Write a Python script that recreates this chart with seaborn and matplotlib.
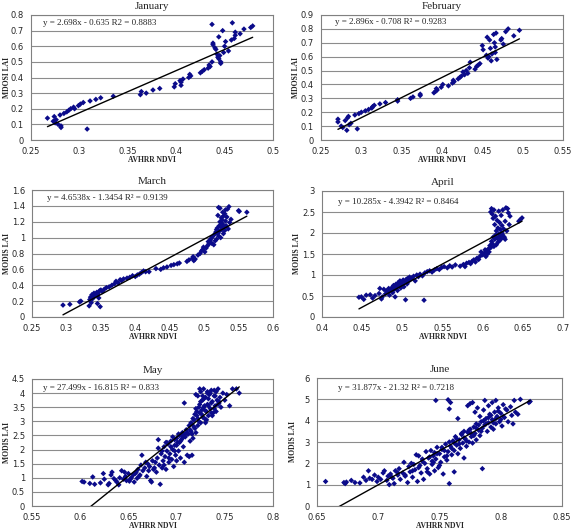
import numpy as np
import pandas as pd
import matplotlib
matplotlib.use("Agg")
import matplotlib.pyplot as plt
import matplotlib.ticker as ticker
import seaborn as sns

sns.set_style("white")
plt.rcParams['font.family'] = ['Liberation Serif', 'DejaVu Serif']

# ---- data ----
jan_x = [0.267, 0.273, 0.274, 0.275, 0.276, 0.278, 0.280, 0.281, 0.281, 0.284, 0.287, 0.289, 0.291, 0.294,
         0.295, 0.299, 0.301, 0.304, 0.308, 0.311, 0.317, 0.322, 0.335, 0.363, 0.364, 0.369, 0.376, 0.383,
         0.398, 0.399, 0.404, 0.405, 0.405, 0.407, 0.413, 0.414, 0.415, 0.425, 0.427, 0.429, 0.433, 0.434,
         0.435, 0.437, 0.437, 0.438, 0.438, 0.440, 0.441, 0.442, 0.443, 0.444, 0.444, 0.445, 0.446, 0.446,
         0.448, 0.449, 0.450, 0.451, 0.454, 0.457, 0.458, 0.460, 0.461, 0.461, 0.466, 0.470, 0.477, 0.479]
jan_y = [0.14, 0.12, 0.15, 0.11, 0.13, 0.10, 0.16, 0.09, 0.08, 0.17, 0.18, 0.19, 0.20, 0.21,
         0.20, 0.22, 0.23, 0.24, 0.07, 0.25, 0.26, 0.27, 0.28, 0.29, 0.31, 0.30, 0.32, 0.33,
         0.34, 0.36, 0.38, 0.35, 0.37, 0.39, 0.40, 0.42, 0.41, 0.43, 0.44, 0.45, 0.46, 0.48,
         0.47, 0.50, 0.74, 0.62, 0.61, 0.59, 0.58, 0.55, 0.53, 0.52, 0.66, 0.54, 0.50, 0.49,
         0.70, 0.56, 0.60, 0.63, 0.57, 0.64, 0.75, 0.65, 0.67, 0.69, 0.68, 0.71, 0.72, 0.73]

feb_x = [0.271, 0.271, 0.275, 0.277, 0.280, 0.282, 0.283, 0.284, 0.285, 0.287, 0.292, 0.295, 0.297, 0.300,
         0.305, 0.309, 0.313, 0.314, 0.316, 0.323, 0.330, 0.345, 0.345, 0.361, 0.364, 0.373, 0.373, 0.390,
         0.392, 0.393, 0.394, 0.399, 0.401, 0.408, 0.413, 0.414, 0.415, 0.420, 0.422, 0.424, 0.426, 0.428,
         0.430, 0.432, 0.434, 0.435, 0.441, 0.443, 0.445, 0.447, 0.450, 0.451, 0.455, 0.456, 0.457, 0.458,
         0.459, 0.460, 0.461, 0.462, 0.464, 0.465, 0.466, 0.466, 0.467, 0.468, 0.473, 0.474, 0.476, 0.479,
         0.482, 0.489, 0.496]
feb_y = [0.15, 0.13, 0.10, 0.09, 0.14, 0.07, 0.16, 0.17, 0.11, 0.12, 0.18, 0.08, 0.19, 0.20,
         0.21, 0.22, 0.23, 0.24, 0.25, 0.26, 0.27, 0.28, 0.29, 0.30, 0.31, 0.32, 0.33, 0.34,
         0.35, 0.37, 0.36, 0.38, 0.40, 0.39, 0.41, 0.43, 0.42, 0.44, 0.45, 0.46, 0.49, 0.47,
         0.50, 0.48, 0.52, 0.56, 0.51, 0.53, 0.54, 0.55, 0.68, 0.65, 0.61, 0.74, 0.59, 0.60,
         0.72, 0.66, 0.57, 0.62, 0.76, 0.70, 0.67, 0.63, 0.77, 0.58, 0.72, 0.73, 0.69, 0.78,
         0.80, 0.75, 0.79]

mar_x = [0.295, 0.305, 0.319, 0.321, 0.333, 0.334, 0.335, 0.336, 0.337, 0.338, 0.340, 0.341, 0.343, 0.344,
         0.345, 0.346, 0.347, 0.348, 0.349, 0.350, 0.352, 0.355, 0.358, 0.362, 0.366, 0.370, 0.372, 0.375,
         0.378, 0.380, 0.383, 0.388, 0.392, 0.396, 0.400, 0.403, 0.406, 0.409, 0.412, 0.415, 0.420, 0.430,
         0.437, 0.441, 0.446, 0.452, 0.456, 0.461, 0.464, 0.475, 0.478, 0.483, 0.484, 0.485, 0.487, 0.491,
         0.494, 0.496, 0.498, 0.499, 0.501, 0.503, 0.505, 0.506, 0.507, 0.509, 0.510, 0.511, 0.512, 0.514,
         0.515, 0.516, 0.517, 0.518, 0.518, 0.519, 0.520, 0.520, 0.521, 0.521, 0.522, 0.522, 0.523, 0.523,
         0.524, 0.524, 0.525, 0.525, 0.526, 0.526, 0.527, 0.527, 0.528, 0.528, 0.529, 0.530, 0.530, 0.531,
         0.531, 0.532, 0.533, 0.534, 0.535, 0.536, 0.537, 0.539, 0.550, 0.551, 0.562]
mar_y = [0.15, 0.16, 0.19, 0.20, 0.14, 0.22, 0.25, 0.18, 0.28, 0.23, 0.30, 0.26, 0.27, 0.31,
         0.17, 0.29, 0.24, 0.33, 0.13, 0.34, 0.32, 0.35, 0.37, 0.38, 0.40, 0.42, 0.45, 0.43,
         0.47, 0.46, 0.48, 0.49, 0.50, 0.52, 0.51, 0.53, 0.54, 0.56, 0.58, 0.57, 0.57, 0.61,
         0.60, 0.62, 0.63, 0.65, 0.66, 0.67, 0.68, 0.70, 0.72, 0.74, 0.76, 0.71, 0.73, 0.78,
         0.80, 0.83, 0.85, 0.88, 0.82, 0.87, 0.90, 0.95, 0.92, 0.97, 0.99, 0.93, 1.01, 0.91,
         1.04, 0.96, 1.07, 1.10, 0.98, 1.12, 1.28, 1.05, 1.38, 1.02, 1.15, 1.08, 1.37, 1.20,
         1.14, 1.00, 1.25, 1.18, 1.10, 1.22, 1.17, 1.32, 1.05, 1.27, 1.13, 1.30, 1.09, 1.35,
         1.21, 1.15, 1.26, 1.36, 1.11, 1.39, 1.19, 1.23, 1.34, 1.33, 1.32]

apr_x = [0.446, 0.449, 0.452, 0.455, 0.460, 0.463, 0.466, 0.471, 0.472, 0.474, 0.475, 0.477, 0.479, 0.480,
         0.482, 0.483, 0.484, 0.486, 0.487, 0.488, 0.489, 0.490, 0.491, 0.492, 0.493, 0.494, 0.495, 0.496,
         0.497, 0.498, 0.499, 0.500, 0.501, 0.502, 0.503, 0.504, 0.505, 0.506, 0.507, 0.508, 0.509, 0.510,
         0.512, 0.514, 0.516, 0.518, 0.520, 0.522, 0.525, 0.527, 0.528, 0.531, 0.534, 0.537, 0.540, 0.543,
         0.546, 0.549, 0.552, 0.556, 0.559, 0.562, 0.566, 0.572, 0.576, 0.578, 0.580, 0.583, 0.585, 0.587,
         0.589, 0.591, 0.593, 0.595, 0.597, 0.598, 0.600, 0.602, 0.603, 0.604, 0.605, 0.606, 0.607, 0.608,
         0.609, 0.610, 0.610, 0.611, 0.611, 0.612, 0.612, 0.613, 0.613, 0.614, 0.614, 0.615, 0.615, 0.616,
         0.616, 0.617, 0.617, 0.618, 0.618, 0.619, 0.619, 0.620, 0.620, 0.621, 0.621, 0.622, 0.622, 0.623,
         0.623, 0.624, 0.624, 0.625, 0.625, 0.626, 0.627, 0.628, 0.628, 0.629, 0.630, 0.631, 0.632, 0.633,
         0.634, 0.645, 0.647, 0.649]
apr_y = [0.47, 0.48, 0.42, 0.52, 0.53, 0.45, 0.51, 0.56, 0.68, 0.43, 0.48, 0.66, 0.55, 0.62,
         0.60, 0.68, 0.52, 0.64, 0.70, 0.58, 0.75, 0.66, 0.48, 0.78, 0.71, 0.63, 0.82, 0.74,
         0.86, 0.69, 0.80, 0.76, 0.88, 0.72, 0.84, 0.41, 0.90, 0.79, 0.92, 0.86, 0.95, 0.89,
         0.93, 0.97, 0.86, 1.00, 0.96, 1.02, 0.98, 0.40, 1.05, 1.08, 1.10, 1.07, 1.12, 1.15,
         1.13, 1.18, 1.20, 1.17, 1.22, 1.19, 1.24, 1.21, 1.25, 1.20, 1.28, 1.30, 1.27, 1.33,
         1.36, 1.31, 1.40, 1.37, 1.45, 1.55, 1.48, 1.52, 1.60, 1.44, 1.57, 1.50, 1.62, 1.55,
         1.70, 2.50, 1.65, 2.58, 1.80, 2.45, 1.75, 2.35, 1.90, 2.55, 1.68, 2.20, 1.85, 2.40,
         1.95, 1.72, 2.05, 2.30, 1.88, 1.78, 2.12, 2.52, 1.98, 1.82, 2.25, 2.08, 1.92, 2.42,
         1.86, 2.18, 2.00, 2.55, 1.95, 2.10, 1.90, 2.28, 1.85, 2.60, 2.05, 2.58, 2.48, 2.20,
         2.40, 2.28, 2.32, 2.36]

may_x = [0.602, 0.604, 0.610, 0.613, 0.615, 0.621, 0.624, 0.625, 0.629, 0.630, 0.632, 0.633, 0.635, 0.637,
         0.640, 0.641, 0.643, 0.645, 0.647, 0.648, 0.650, 0.651, 0.653, 0.655, 0.656, 0.658, 0.659, 0.660,
         0.662, 0.663, 0.664, 0.665, 0.667, 0.669, 0.670, 0.672, 0.673, 0.674, 0.675, 0.676, 0.678, 0.679,
         0.680, 0.681, 0.681, 0.682, 0.683, 0.684, 0.685, 0.686, 0.687, 0.688, 0.689, 0.690, 0.691, 0.692,
         0.693, 0.694, 0.695, 0.696, 0.697, 0.698, 0.699, 0.700, 0.700, 0.701, 0.702, 0.703, 0.704, 0.705,
         0.706, 0.707, 0.708, 0.708, 0.709, 0.710, 0.711, 0.712, 0.713, 0.714, 0.715, 0.716, 0.717, 0.718,
         0.719, 0.720, 0.720, 0.721, 0.722, 0.722, 0.723, 0.724, 0.724, 0.725, 0.725, 0.726, 0.727, 0.727,
         0.728, 0.728, 0.729, 0.730, 0.730, 0.731, 0.732, 0.732, 0.733, 0.734, 0.735, 0.736, 0.737, 0.738,
         0.739, 0.740, 0.741, 0.742, 0.743, 0.744, 0.745, 0.746, 0.748, 0.750, 0.752, 0.755, 0.758, 0.762,
         0.765, 0.713, 0.716, 0.698, 0.703, 0.706, 0.709, 0.711, 0.714, 0.716, 0.718, 0.722, 0.726, 0.729,
         0.733, 0.736, 0.739, 0.715, 0.717, 0.719, 0.721, 0.723, 0.725, 0.727, 0.729, 0.731, 0.733, 0.735,
         0.737, 0.739, 0.741, 0.743, 0.720, 0.724, 0.728, 0.732, 0.736, 0.740, 0.744, 0.690, 0.692, 0.694,
         0.696, 0.698, 0.700, 0.702, 0.704, 0.706, 0.685, 0.687, 0.689, 0.668, 0.671, 0.677, 0.657, 0.661,
         0.646, 0.652, 0.638]
may_y = [0.87, 0.85, 0.80, 1.03, 0.77, 0.82, 1.15, 0.95, 0.75, 0.80, 1.10, 1.20, 0.97, 0.90,
         0.75, 1.00, 1.25, 0.95, 1.05, 0.90, 1.15, 0.88, 1.00, 1.10, 0.85, 1.20, 0.98, 1.30,
         1.10, 1.45, 1.80, 1.25, 1.35, 1.05, 1.50, 1.40, 0.90, 0.85, 1.60, 1.30, 1.55, 1.20,
         1.70, 2.05, 2.35, 1.45, 0.77, 1.85, 1.35, 1.60, 2.10, 1.75, 1.30, 1.95, 2.20, 1.55,
         1.85, 2.30, 1.65, 2.00, 1.40, 2.15, 1.80, 2.40, 1.60, 2.25, 1.95, 2.50, 1.70, 2.35,
         2.60, 2.10, 1.55, 3.65, 2.45, 2.70, 1.80, 2.55, 2.85, 2.30, 2.65, 2.90, 2.40, 3.05,
         2.75, 3.45, 2.60, 3.20, 3.90, 2.85, 3.00, 3.60, 3.30, 4.05, 2.95, 3.40, 3.75, 3.15,
         4.15, 3.50, 3.10, 3.85, 2.95, 3.35, 4.00, 3.60, 3.20, 3.95, 3.45, 4.10, 3.70, 3.30,
         3.90, 3.55, 4.05, 3.75, 4.15, 3.65, 3.85, 3.50, 4.00, 3.75, 3.95, 3.55, 4.15, 4.15,
         4.00, 1.75, 1.80, 2.35, 2.25, 2.40, 2.55, 2.60, 2.70, 2.55, 2.80, 3.10, 3.25, 3.40,
         3.55, 3.65, 3.45, 2.95, 3.10, 3.25, 3.35, 3.50, 3.70, 3.90, 3.55, 3.05, 3.80, 4.00,
         3.20, 4.10, 3.35, 3.60, 3.95, 4.15, 3.80, 4.05, 3.30, 3.90, 3.70, 2.25, 1.70, 2.10,
         2.45, 1.95, 2.15, 2.55, 2.30, 2.50, 1.95, 1.45, 2.25, 1.55, 1.25, 1.35, 1.15, 1.05,
         1.20, 0.95, 0.85]

jun_x = [0.657, 0.672, 0.673, 0.674, 0.678, 0.681, 0.685, 0.688, 0.690, 0.692, 0.693, 0.695, 0.697, 0.699,
         0.700, 0.702, 0.704, 0.705, 0.707, 0.708, 0.709, 0.710, 0.712, 0.713, 0.714, 0.716, 0.717, 0.718,
         0.720, 0.721, 0.722, 0.724, 0.725, 0.726, 0.727, 0.728, 0.729, 0.730, 0.731, 0.732, 0.733, 0.734,
         0.735, 0.736, 0.737, 0.738, 0.739, 0.740, 0.741, 0.742, 0.743, 0.744, 0.745, 0.746, 0.747, 0.747,
         0.748, 0.749, 0.750, 0.751, 0.752, 0.753, 0.754, 0.755, 0.756, 0.757, 0.757, 0.758, 0.758, 0.759,
         0.759, 0.760, 0.761, 0.762, 0.762, 0.763, 0.764, 0.765, 0.765, 0.766, 0.767, 0.768, 0.769, 0.770,
         0.770, 0.771, 0.772, 0.773, 0.773, 0.774, 0.775, 0.775, 0.776, 0.777, 0.777, 0.778, 0.779, 0.779,
         0.780, 0.780, 0.781, 0.782, 0.783, 0.783, 0.784, 0.785, 0.785, 0.786, 0.787, 0.787, 0.788, 0.789,
         0.790, 0.790, 0.791, 0.792, 0.793, 0.793, 0.794, 0.795, 0.796, 0.796, 0.797, 0.798, 0.799, 0.800,
         0.801, 0.802, 0.803, 0.805, 0.806, 0.808, 0.809, 0.810, 0.811, 0.812, 0.814, 0.816, 0.823, 0.824,
         0.745, 0.748, 0.750, 0.752, 0.754, 0.756, 0.758, 0.760, 0.762, 0.764, 0.766, 0.768, 0.770, 0.772,
         0.774, 0.776, 0.778, 0.780, 0.782, 0.784, 0.786, 0.788, 0.790, 0.792, 0.794, 0.796, 0.798, 0.800,
         0.802, 0.804, 0.740, 0.742, 0.744, 0.746, 0.736, 0.733, 0.728, 0.722, 0.716, 0.711]
jun_y = [1.15, 1.10, 1.05, 1.12, 1.20, 1.10, 1.08, 1.35, 1.20, 1.65, 1.30, 1.25, 1.45, 1.15,
         1.35, 1.25, 1.55, 1.65, 1.20, 1.40, 1.00, 1.50, 1.30, 1.05, 1.65, 1.45, 1.75, 1.25,
         1.55, 2.05, 1.40, 1.10, 1.85, 1.60, 2.00, 1.35, 1.95, 1.70, 2.40, 1.15, 2.35, 1.90,
         1.55, 2.10, 1.25, 2.00, 2.55, 1.75, 2.25, 1.50, 2.60, 1.95, 2.35, 1.65, 4.95, 2.20,
         2.75, 1.80, 2.45, 2.05, 2.65, 1.50, 2.30, 2.90, 2.15, 2.55, 4.98, 4.55, 1.05, 2.80,
         4.85, 2.40, 3.05, 2.60, 1.60, 3.25, 2.85, 2.45, 4.10, 3.10, 2.70, 3.35, 2.95, 3.50,
         2.25, 3.15, 2.80, 4.70, 3.45, 3.00, 4.80, 3.60, 3.25, 4.85, 2.95, 3.70, 4.40, 3.40,
         3.85, 3.10, 4.60, 3.55, 4.20, 3.30, 3.95, 1.75, 3.65, 4.50, 4.95, 3.80, 4.10, 3.50,
         4.70, 3.90, 4.30, 3.70, 4.85, 4.05, 3.60, 4.40, 4.95, 3.85, 4.20, 4.60, 3.95, 4.35,
         3.75, 4.75, 4.15, 4.50, 3.95, 4.65, 4.25, 3.85, 4.95, 4.40, 4.30, 5.00, 4.85, 4.90,
         2.05, 2.45, 1.90, 2.75, 2.60, 2.35, 3.00, 2.70, 2.95, 3.15, 2.90, 3.40, 3.20, 3.05,
         3.55, 3.40, 3.30, 3.65, 3.80, 3.50, 4.00, 3.85, 4.15, 4.25, 3.90, 4.10, 4.45, 4.05,
         4.20, 4.55, 1.60, 2.30, 2.10, 2.50, 2.20, 1.80, 1.65, 1.45, 1.55, 1.35]

months = ["January", "February", "March", "April", "May", "June"]
xs = [jan_x, feb_x, mar_x, apr_x, may_x, jun_x]
ys = [jan_y, feb_y, mar_y, apr_y, may_y, jun_y]
slopes = [2.698, 2.896, 4.6538, 10.285, 27.499, 31.877]
intercepts = [-0.635, -0.708, -1.3454, -4.3942, -16.815, -21.32]
equations = ["y = 2.698x - 0.635 R2 = 0.8883",
             "y = 2.896x - 0.708 R² = 0.9283",
             "y = 4.6538x - 1.3454 R² = 0.9139",
             "y = 10.285x - 4.3942 R² = 0.8464",
             "y = 27.499x - 16.815 R² = 0.833",
             "y = 31.877x - 21.32 R² = 0.7218"]
ylabels = ["MDOSI LAI", "MDOSI LAI", "MODIS LAI", "MODIS LAI", "MODIS LAI", "MODIS LAI"]
xlims = [(0.25, 0.5, 0.05), (0.25, 0.55, 0.05), (0.25, 0.6, 0.05),
         (0.4, 0.7, 0.05), (0.55, 0.8, 0.05), (0.65, 0.85, 0.05)]
ylims = [(0, 0.8, 0.1), (0, 0.9, 0.1), (0, 1.6, 0.2), (0, 3, 0.5), (0, 4.5, 0.5), (0, 6, 1)]

# axes boxes in pixels: left, top, right, bottom
boxes = [(31, 15, 273, 140), (321, 15, 563, 140),
         (32, 190, 273, 317), (322, 191, 563, 317),
         (32, 379, 273, 506), (317, 378, 562, 506)]
eq_pos = [(0.05, 0.935), (0.058, 0.94), (0.062, 0.935), (0.066, 0.91), (0.045, 0.93), (0.087, 0.92)]
ylab_x = [11, 300, 11, 301, 11, 297]   # pixel x of the y-label's right edge

W, H = 572, 531
fig = plt.figure(figsize=(W / 100, H / 100), dpi=100)
fmt = ticker.FuncFormatter(lambda v, p: f"{v:g}")

for i in range(6):
    l, t, r, b = boxes[i]
    ax = fig.add_axes([l / W, (H - b) / H, (r - l) / W, (b - t) / H])
    df = pd.DataFrame({"ndvi": xs[i], "lai": ys[i]})
    sns.scatterplot(data=df, x="ndvi", y="lai", ax=ax, marker="D", s=8,
                    color="#0b0b8a", edgecolor="none", zorder=3)
    x0, x1 = df["ndvi"].min(), df["ndvi"].max()
    line_x = np.array([x0, x1])
    ax.plot(line_x, slopes[i] * line_x + intercepts[i], color="black", lw=1.0, zorder=4)

    xmin, xmax, xstep = xlims[i]
    ymin, ymax, ystep = ylims[i]
    ax.set_xlim(xmin, xmax)
    ax.set_ylim(ymin, ymax)
    ax.set_xticks(np.arange(xmin, xmax + xstep / 2, xstep))
    ax.set_yticks(np.arange(ymin, ymax + ystep / 2, ystep))
    ax.xaxis.set_major_formatter(fmt)
    ax.yaxis.set_major_formatter(fmt)
    ax.yaxis.grid(True, color="#8c8c8c", lw=0.8)
    ax.set_axisbelow(True)
    for s in ax.spines.values():
        s.set_color("#808080")
        s.set_linewidth(0.8)
    ax.tick_params(axis="both", labelsize=6, length=3, width=0.6, color="#808080", pad=2,
                   direction="out")
    for lab in ax.get_xticklabels() + ax.get_yticklabels():
        lab.set_family(["DejaVu Sans"])
    ax.set_title(months[i], fontsize=8, pad=4)
    ax.set_xlabel("AVHRR NDVI", fontsize=5.5, fontweight="bold")
    ax.set_ylabel(ylabels[i], fontsize=5.5, fontweight="bold")
    ax.xaxis.set_label_coords(0.5, -16 / (b - t))
    ax.yaxis.set_label_coords((ylab_x[i] - l) / (r - l), 0.5)
    ax.text(eq_pos[i][0], eq_pos[i][1], equations[i], transform=ax.transAxes,
            fontsize=6.5, va="center", ha="left")

fig.savefig("out.png", dpi=100, facecolor="white")
